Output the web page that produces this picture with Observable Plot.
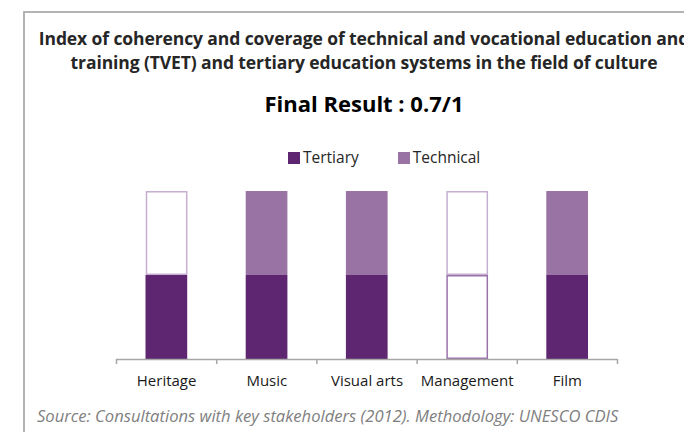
<!DOCTYPE html>
<html>
<head>
<meta charset="utf-8">
<script src="https://cdn.jsdelivr.net/npm/d3@7"></script>
<script src="https://cdn.jsdelivr.net/npm/@observablehq/plot@0.6"></script>
<style>
  html, body { margin: 0; padding: 0; background: #fff; overflow: hidden; }
  #wrap { width: 684px; height: 432px; position: relative; overflow: hidden; font-family: "Open Sans", sans-serif; }
  .frame { position: absolute; left: 23px; top: 11px; width: 760px; height: 480px; border: 2px solid #b4b4b4; box-sizing: border-box; }
  .t { position: absolute; left: 0; width: 728px; text-align: center; white-space: nowrap; color: #262626; }
  .title { font-size: 17.5px; font-weight: 700; line-height: 22px; letter-spacing: -0.1px; }
  .sub { font-size: 22px; font-weight: 700; line-height: 26px; color: #000; }
  .legend { position: absolute; top: 147px; left: 288px; font-size: 15.5px; line-height: 20px; color: #262626; white-space: nowrap; }
  .legend span.sw { display: inline-block; width: 12px; height: 12px; vertical-align: -1px; margin-right: 3px; }
  .source { position: absolute; left: 37px; top: 404px; font-size: 16.6px; font-style: italic; color: #808080; white-space: nowrap; }
  #chart { position: absolute; left: 0; top: 170px; }
</style>
</head>
<body>
<div id="wrap">
<div class="frame"></div>
<div class="t title" style="top:27px">Index of coherency and coverage of technical and vocational education and</div>
<div class="t title" style="top:51px">training (TVET) and tertiary education systems in the field of culture</div>
<div class="t sub" style="top:90px">Final Result : 0.7/1</div>
<div class="legend"><span class="sw" style="background:#5e2570"></span>Tertiary<span style="display:inline-block;width:39px"></span><span class="sw" style="background:#9873a3"></span>Technical</div>
<div class="source">Source: Consultations with key stakeholders (2012). Methodology: UNESCO CDIS</div>
<div id="chart"></div>
</div>
<script>
const categories = ["Heritage", "Music", "Visual arts", "Management", "Film"];
const tertiary = [1, 1, 1, 0, 1];
const technical = [0, 1, 1, 0, 1];
const seriesNames = ["Tertiary", "Technical"];
const fillColors = {Tertiary: "#5e2570", Technical: "#9873a3"};
const outlineColors = {Tertiary: "#9a72aa", Technical: "#c7afd0"};

const rows = [];
categories.forEach((c, i) => {
  rows.push({cat: c, i, series: "Tertiary", base: 0, value: tertiary[i]});
  rows.push({cat: c, i, series: "Technical", base: 1, value: technical[i]});
});
const filled = rows.filter(d => d.value === 1);
const empty = rows.filter(d => d.value === 0);
const boundaries = d3.range(categories.length + 1);

const plot = Plot.plot({
  width: 684,
  height: 230,
  marginLeft: 116,
  marginRight: 67,
  marginTop: 21,
  marginBottom: 41,
  style: {fontFamily: "Open Sans, sans-serif", fontSize: "14px", color: "#262626", background: "transparent"},
  x: {domain: [0, categories.length], axis: null},
  y: {domain: [0, 2], axis: null},
  marks: [
    Plot.rect(empty.filter(d => d.series === "Technical"), {x1: d => d.i, x2: d => d.i + 1, y1: d => d.base, y2: d => d.base + 1,
      insetLeft: 30.5, insetRight: 29.5, insetTop: 0.75, insetBottom: 0.75,
      fill: "white", stroke: d => outlineColors[d.series], strokeWidth: 1.5}),
    Plot.rect(empty.filter(d => d.series === "Tertiary"), {x1: d => d.i, x2: d => d.i + 1, y1: d => d.base, y2: d => d.base + 1,
      insetLeft: 30.5, insetRight: 29.5, insetTop: 0.75, insetBottom: 0.75,
      fill: "white", stroke: d => outlineColors[d.series], strokeWidth: 1.5}),
    Plot.rect(filled, {x1: d => d.i, x2: d => d.i + 1, y1: d => d.base, y2: d => d.base + 1,
      insetLeft: 29.5, insetRight: 29, fill: d => fillColors[d.series]}),
    Plot.ruleY([0], {stroke: "#a6a6a6", strokeWidth: 1.5}),
    Plot.ruleX(boundaries, {x: d => d, y1: 0, y2: -0.06, stroke: "#a6a6a6", strokeWidth: 1.5}),
    Plot.text(categories, {x: (d, i) => i + 0.5, y: 0, dy: 22, text: d => d, fill: "#1a1a1a", fontSize: 15})
  ]
});
document.getElementById("chart").appendChild(plot);
</script>
</body>
</html>
